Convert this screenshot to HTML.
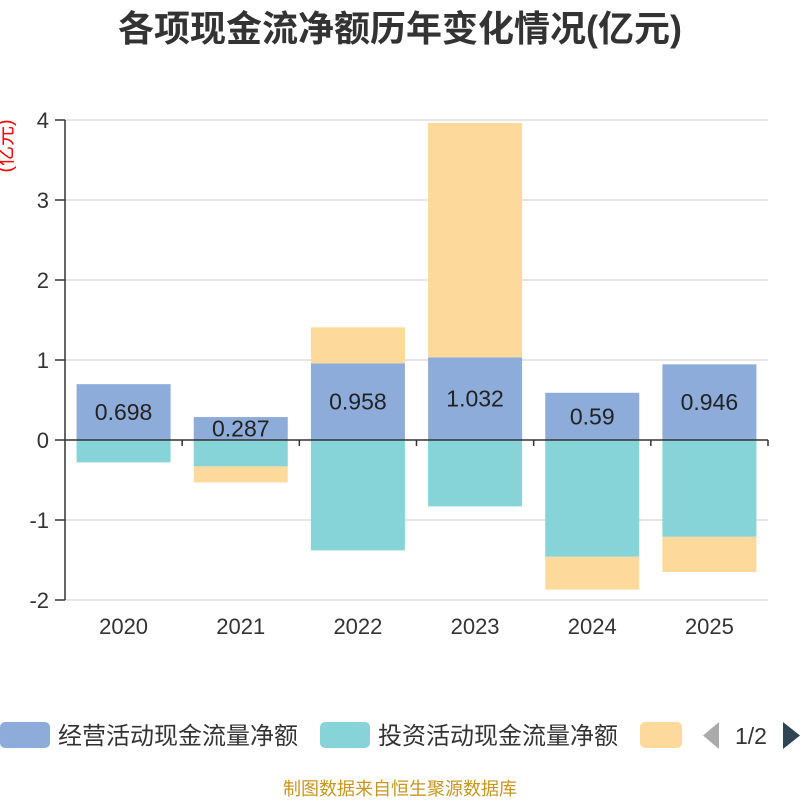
<!DOCTYPE html>
<html><head><meta charset="utf-8"><style>
html,body{margin:0;padding:0;background:#fff;}
svg{display:block;font-family:"Liberation Sans","Noto Sans CJK SC",sans-serif;}
</style></head><body>
<svg id="chart" width="800" height="800" viewBox="0 0 800 800">
<text x="400" y="41" text-anchor="middle" font-size="36" font-weight="bold" fill="#333">各项现金流净额历年变化情况(亿元)</text>
<text transform="translate(12,146) rotate(-90)" text-anchor="middle" font-size="20" fill="#ff0000">(亿元)</text>
<g id="grid"></g><g id="bars"></g><g id="axes"></g><g id="labels"></g>
<g>
<rect x="0" y="722" width="50" height="26" rx="5" fill="#8eacd9"/>
<text x="58" y="744" font-size="24" fill="#333">经营活动现金流量净额</text>
<rect x="320" y="722" width="50" height="26" rx="5" fill="#86d4d8"/>
<text x="378" y="744" font-size="24" fill="#333">投资活动现金流量净额</text>
<rect x="640" y="722" width="42" height="26" rx="5" fill="#fdd99b"/>
<polygon points="719,722 719,749 703,735.5" fill="#aaa"/>
<text x="751" y="744" text-anchor="middle" font-size="23" fill="#333">1/2</text>
<polygon points="783,722 783,749 800,735.5" fill="#2f4554"/>
</g>
<text x="400" y="795" text-anchor="middle" font-size="18" fill="#c8961e">制图数据来自恒生聚源数据库</text>
</svg>
<script>
const categories=["2020","2021","2022","2023","2024","2025"];
const operating=[0.698,0.287,0.958,1.032,0.59,0.946];
const investing=[-0.28,-0.33,-1.38,-0.83,-1.46,-1.21];
const financing=[0,-0.2,0.45,2.93,-0.41,-0.44];
const yTicks=[-2,-1,0,1,2,3,4];
const NS="http://www.w3.org/2000/svg";
const x0=65,x1=768,yTop=120,yBot=600,yMin=-2,yMax=4;
const band=(x1-x0)/categories.length,bw=94;
function y(v){return yBot-(v-yMin)/(yMax-yMin)*(yBot-yTop);}
function xc(i){return x0+band*(i+0.5);}
function mk(tag,attrs,parent){const e=document.createElementNS(NS,tag);for(const k in attrs)e.setAttribute(k,attrs[k]);document.getElementById(parent).appendChild(e);return e;}
yTicks.forEach(t=>{
  const l=mk('line',{x1:x0,x2:x1,y1:y(t),y2:y(t),stroke:'#ccc','stroke-width':1},'grid');
  
  
  const tk=mk('line',{x1:x0-10,x2:x0,y1:y(t),y2:y(t),stroke:'#333','stroke-width':1.5},'axes');
  
  
  const tx=mk('text',{x:x0-16,y:y(t)+8,'text-anchor':'end','font-size':22,fill:'#333'},'axes');
  tx.textContent=t;
  
  
});
const ya=mk('line',{x1:x0,x2:x0,y1:yTop,y2:yBot,stroke:'#333','stroke-width':1.5},'axes');


const xa=mk('line',{x1:x0,x2:x1,y1:y(0),y2:y(0),stroke:'#333','stroke-width':1.5},'axes');


const series=[[operating,'#8eacd9','operating'],[investing,'#86d4d8','investing'],[financing,'#fdd99b','financing']];
categories.forEach((c,i)=>{
  let pos=0,neg=0;
  series.forEach(([arr,col,nm])=>{
    const v=arr[i];if(!v)return;
    let a,b;
    if(v>=0){a=pos;b=pos+v;pos=b;}else{a=neg;b=neg+v;neg=b;}
    const r=mk('rect',{x:xc(i)-bw/2,width:bw,y:Math.min(y(a),y(b)),height:Math.abs(y(a)-y(b)),fill:col},'bars');
    
    
  });
  const tk=mk('line',{x1:x0+band*(i+1),x2:x0+band*(i+1),y1:y(0),y2:y(0)+6,stroke:'#333','stroke-width':1.5},'axes');
  
  
  const xl=mk('text',{x:xc(i),y:634,'text-anchor':'middle','font-size':22,fill:'#333'},'axes');
  xl.textContent=c;
  
  
  const vl=mk('text',{x:xc(i),y:(y(0)+y(operating[i]))/2+8,'text-anchor':'middle','font-size':23,fill:'#222'},'labels');
  vl.textContent=operating[i];
  
  
});
</script>
</body></html>
